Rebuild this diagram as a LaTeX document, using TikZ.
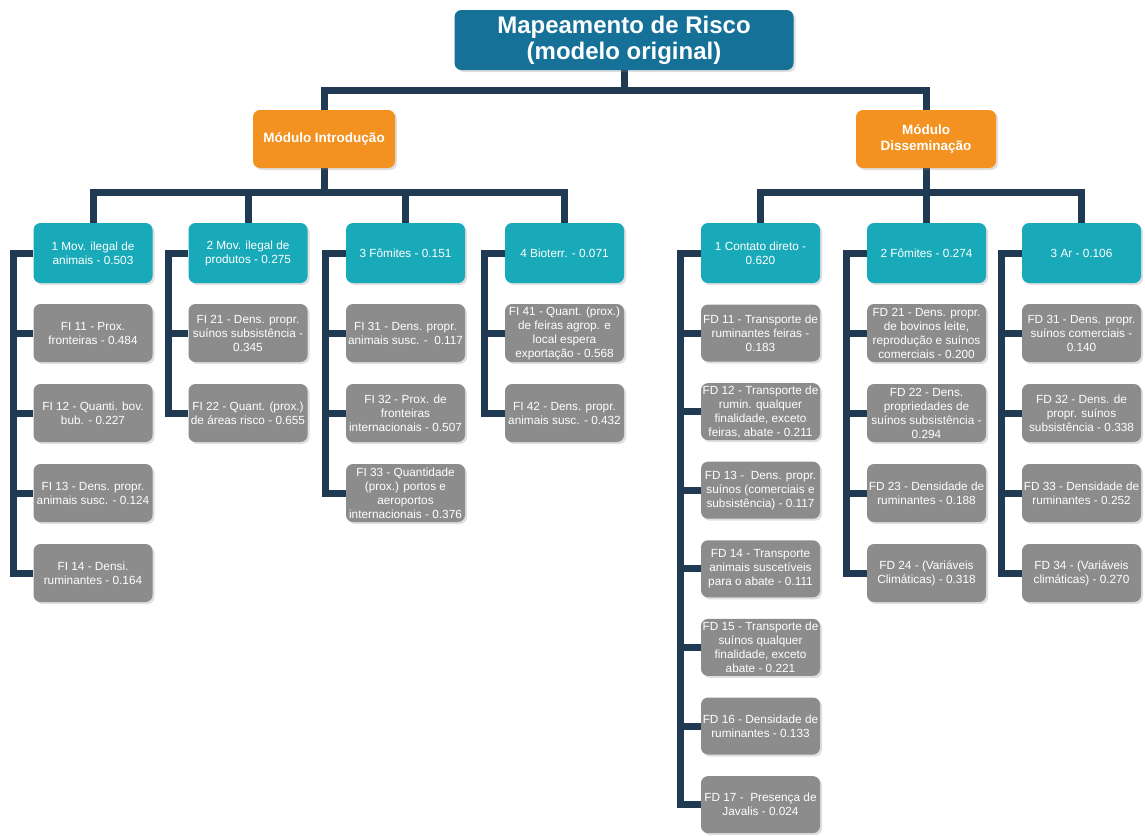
\documentclass[tikz,border=0pt]{standalone}
\usepackage{fontspec}
\setmainfont{Liberation Sans}
\usetikzlibrary{shadows,backgrounds}

\definecolor{rootblue}{RGB}{22,113,152}
\definecolor{modorange}{RGB}{243,146,32}
\definecolor{catteal}{RGB}{25,170,185}
\definecolor{leafgray}{RGB}{140,140,140}
\definecolor{linknavy}{RGB}{32,58,84}

\tikzset{
  box/.style={rounded corners=7pt, text=white, align=center, inner xsep=0.5pt, inner ysep=2pt,
    drop shadow={shadow xshift=2pt, shadow yshift=-2pt, opacity=0.25}},
  rootbox/.style={box, fill=rootblue, minimum width=339pt, minimum height=60pt,
    font=\bfseries\fontsize{24}{26}\selectfont},
  modbox/.style={box, fill=modorange, minimum width=142pt, minimum height=58pt,
    font=\bfseries\fontsize{13.5}{16}\selectfont},
  catbox/.style={box, fill=catteal, minimum width=119pt, minimum height=60pt,
    font=\fontsize{11.8}{14}\selectfont},
  leafbox/.style={box, fill=leafgray, minimum width=119pt, minimum height=58pt,
    font=\fontsize{11.8}{14}\selectfont},
  link/.style={draw=linknavy, line width=7pt},
}

\begin{document}
\begin{tikzpicture}[x=1pt, y=-1pt]
  \useasboundingbox (0,0) rectangle (1145,835);

  % top levels
  \node[rootbox] (root) at (624,40) {Mapeamento de Risco\\(modelo original)};
  \node[modbox] (mi) at (324,139) {Módulo Introdução};
  \node[modbox, minimum width=140pt] (md) at (926,139) {Módulo\\Disseminação};

  % categories
  \node[catbox] (i1) at (93,253) {1 Mov. ilegal de\\animais - 0.503};
  \node[catbox] (i2) at (248,253) {2 Mov. ilegal de\\produtos - 0.275};
  \node[catbox] (i3) at (405.5,253) {3 Fômites - 0.151};
  \node[catbox] (i4) at (564.5,253) {4 Bioterr. - 0.071};
  \node[catbox] (d1) at (760.5,253) {1 Contato direto -\\0.620};
  \node[catbox] (d2) at (926.5,253) {2 Fômites - 0.274};
  \node[catbox] (d3) at (1081.5,253) {3 Ar - 0.106};

  % factors
  \foreach \t [count=\k] in {{FI 11 - Prox.\\fronteiras - 0.484},
      {FI 12 - Quanti. bov.\\bub. - 0.227},
      {FI 13 - Dens. propr.\\animais susc. - 0.124},
      {FI 14 - Densi.\\ruminantes - 0.164}}
    \node[leafbox] (i1\k) at (93,{333+80*(\k-1)}) {\t};
  \foreach \t [count=\k] in {{FI 21 - Dens. propr.\\suínos subsistência -\\0.345},
      {FI 22 - Quant. (prox.)\\de áreas risco - 0.655}}
    \node[leafbox] (i2\k) at (248,{333+80*(\k-1)}) {\t};
  \foreach \t [count=\k] in {{FI 31 - Dens. propr.\\animais susc. -\ \ 0.117},
      {FI 32 - Prox. de\\fronteiras\\internacionais - 0.507},
      {FI 33 - Quantidade\\(prox.) portos e\\aeroportos\\internacionais - 0.376}}
    \node[leafbox] (i3\k) at (405.5,{333+80*(\k-1)}) {\t};
  \foreach \t [count=\k] in {{FI 41 - Quant. (prox.)\\de feiras agrop. e\\local espera\\exportação - 0.568},
      {FI 42 - Dens. propr.\\animais susc. - 0.432}}
    \node[leafbox] (i4\k) at (564.5,{333+80*(\k-1)}) {\t};
  \foreach \t [count=\k] in {{FD 11 - Transporte de\\ruminantes feiras -\\0.183},
      {FD 12 - Transporte de\\rumin. qualquer\\finalidade, exceto\\feiras, abate - 0.211},
      {FD 13 -\ \ Dens. propr.\\suínos (comerciais e\\subsistência) - 0.117},
      {FD 14 - Transporte\\animais suscetíveis\\para o abate - 0.111},
      {FD 15 - Transporte de\\suínos qualquer\\finalidade, exceto\\abate - 0.221},
      {FD 16 - Densidade de\\ruminantes - 0.133},
      {FD 17 -\ \ Presença de\\Javalis - 0.024}}
    \node[leafbox, minimum height=57pt] (d1\k) at (760.5,{333+78.6*(\k-1)}) {\t};
  \foreach \t [count=\k] in {{FD 21 - Dens. propr.\\de bovinos leite,\\reprodução e suínos\\comerciais - 0.200},
      {FD 22 - Dens.\\propriedades de\\suínos subsistência -\\0.294},
      {FD 23 - Densidade de\\ruminantes - 0.188},
      {FD 24 - (Variáveis\\Climáticas) - 0.318}}
    \node[leafbox] (d2\k) at (926.5,{333+80*(\k-1)}) {\t};
  \foreach \t [count=\k] in {{FD 31 - Dens. propr.\\suínos comerciais -\\0.140},
      {FD 32 - Dens. de\\propr. suínos\\subsistência - 0.338},
      {FD 33 - Densidade de\\ruminantes - 0.252},
      {FD 34 - (Variáveis\\climáticas) - 0.270}}
    \node[leafbox] (d3\k) at (1081.5,{333+80*(\k-1)}) {\t};

  \begin{scope}[on background layer]
    \fill[white] (0,0) rectangle (1145,835);
    % tree links
    \draw[link] (root.south) -- ++(0,20) coordinate (rb);
    \draw[link] (mi.north) |- (rb) -| (md.north);
    \draw[link] (mi.south) -- ++(0,24) coordinate (ib);
    \draw[link] (i1.north) |- (ib) -| (i4.north);
    \foreach \c in {i2,i3} \draw[link] (\c.north) -- (\c.north |- ib);
    \draw[link] (md.south) -- ++(0,24) coordinate (db);
    \draw[link] (d1.north) |- (db) -| (d3.north);
    \draw[link] (d2.north) -- (d2.north |- db);
    % brackets
    \foreach \g/\n in {i1/4,i2/2,i3/3,i4/2,d1/7,d2/4,d3/4}{
      \draw[link] (\g.west) -- ++(-20,0) coordinate (b\g) |- (\g\n.west);
      \foreach \k in {1,...,\n} \draw[link] (b\g |- \g\k.west) -- (\g\k.west);
    }
  \end{scope}
\end{tikzpicture}
\end{document}
